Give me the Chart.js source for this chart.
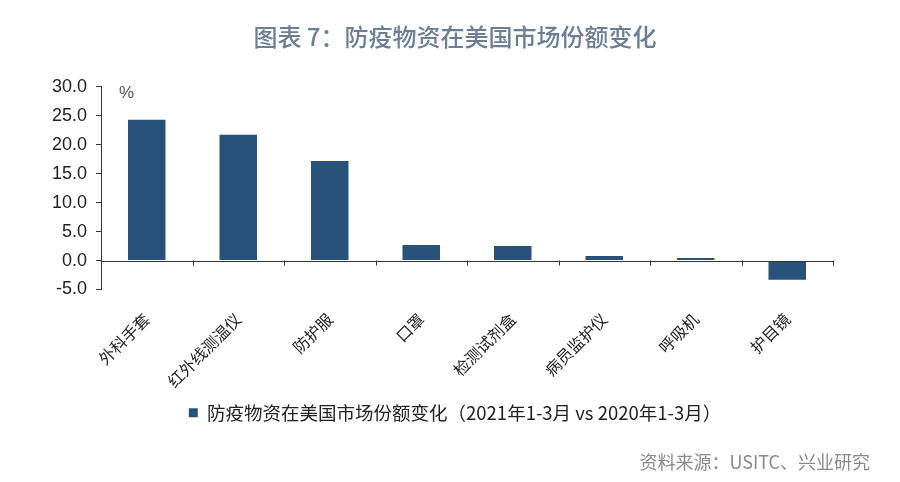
<!DOCTYPE html>
<html>
<head>
<meta charset="utf-8">
<script src="https://cdn.jsdelivr.net/npm/chart.js@4/dist/chart.umd.min.js"></script>
<style>
  html, body { margin: 0; padding: 0; background: #fff; }
  #wrap { position: relative; width: 900px; height: 482px; }
  #source {
    position: absolute; right: 30px; top: 448px;
    font-family: "Noto Sans CJK SC", sans-serif; font-size: 18px; color: #8a8a8a;
  }
</style>
</head>
<body>
<div id="wrap">
  <canvas id="chart" width="900" height="482"></canvas>
  <div id="source">资料来源：USITC、兴业研究</div>
</div>
<script>
const categories = ['外科手套', '红外线测温仪', '防护服', '口罩', '检测试剂盒', '病员监护仪', '呼吸机', '护目镜'];
const shareChange = [24.3, 21.7, 17.2, 2.7, 2.5, 0.8, 0.45, -3.3];
const yTicks = [-5, 0, 5, 10, 15, 20, 25, 30];
const seriesName = '防疫物资在美国市场份额变化（2021年1-3月 vs 2020年1-3月）';

const cjk = '"Noto Sans CJK SC", sans-serif';

// zero line with category tick marks, plus the unit label
const zeroAxis = {
    id: 'zeroAxis',
    afterDatasetsDraw(chart) {
        const { ctx, chartArea, scales } = chart;
        const y0 = scales.y.getPixelForValue(0);
        const n = categories.length;
        const step = (chartArea.right - chartArea.left) / n;
        ctx.save();
        ctx.strokeStyle = '#333';
        ctx.lineWidth = 1;
        ctx.beginPath();
        ctx.moveTo(chartArea.left, Math.round(y0) + 0.5);
        ctx.lineTo(chartArea.right, Math.round(y0) + 0.5);
        for (let i = 1; i <= n; i++) {
            const x = Math.round(chartArea.left + i * step) + 0.5;
            ctx.moveTo(x, y0);
            ctx.lineTo(x, y0 + 5);
        }
        ctx.stroke();
        ctx.fillStyle = '#555';
        ctx.font = '17px "Liberation Sans", sans-serif';
        ctx.textBaseline = 'middle';
        ctx.fillText('%', chartArea.left + 18, scales.y.getPixelForValue(28.8));
        ctx.restore();
    }
};

new Chart(document.getElementById('chart').getContext('2d'), {
    type: 'bar',
    data: {
        labels: categories,
        datasets: [{
            label: seriesName,
            data: shareChange,
            backgroundColor: '#29527a',
            barPercentage: 0.41,
            categoryPercentage: 1.0
        }]
    },
    options: {
        responsive: false,
        animation: false,
        layout: { padding: { left: 10, right: 0, top: 0, bottom: 50 } },
        plugins: {
            title: {
                display: true,
                text: '图表 7：防疫物资在美国市场份额变化',
                color: '#6b7e94',
                font: { family: cjk, size: 24, weight: '500' },
                padding: { top: 22, bottom: 36 }
            },
            legend: {
                position: 'bottom',
                labels: {
                    boxWidth: 9, boxHeight: 9,
                    color: '#222',
                    font: { family: cjk, size: 18.5 },
                    padding: 10
                }
            },
            tooltip: { enabled: false }
        },
        scales: {
            x: {
                afterFit(scale) { scale.height = 104; },
                grid: { display: false },
                border: { display: false },
                ticks: {
                    color: '#222',
                    font: { family: cjk, size: 16 },
                    maxRotation: 45, minRotation: 45,
                    padding: 12
                }
            },
            y: {
                min: -5, max: 30,
                afterFit(scale) { scale.width = 91; },
                afterBuildTicks(scale) { scale.ticks = yTicks.map(v => ({ value: v })); },
                border: { display: true, color: '#333' },
                grid: { drawOnChartArea: false, drawTicks: true, tickLength: 5, color: '#333' },
                ticks: {
                    color: '#222',
                    font: { family: '"Liberation Sans", sans-serif', size: 18 },
                    padding: 9,
                    callback: v => v.toFixed(1)
                }
            },
            // empty right margin so the legend and title centre on the page
            yRight: {
                position: 'right',
                afterFit(scale) { scale.width = 67; },
                grid: { display: false },
                border: { display: false },
                ticks: { display: false }
            }
        }
    },
    plugins: [zeroAxis]
});
</script>
</body>
</html>
